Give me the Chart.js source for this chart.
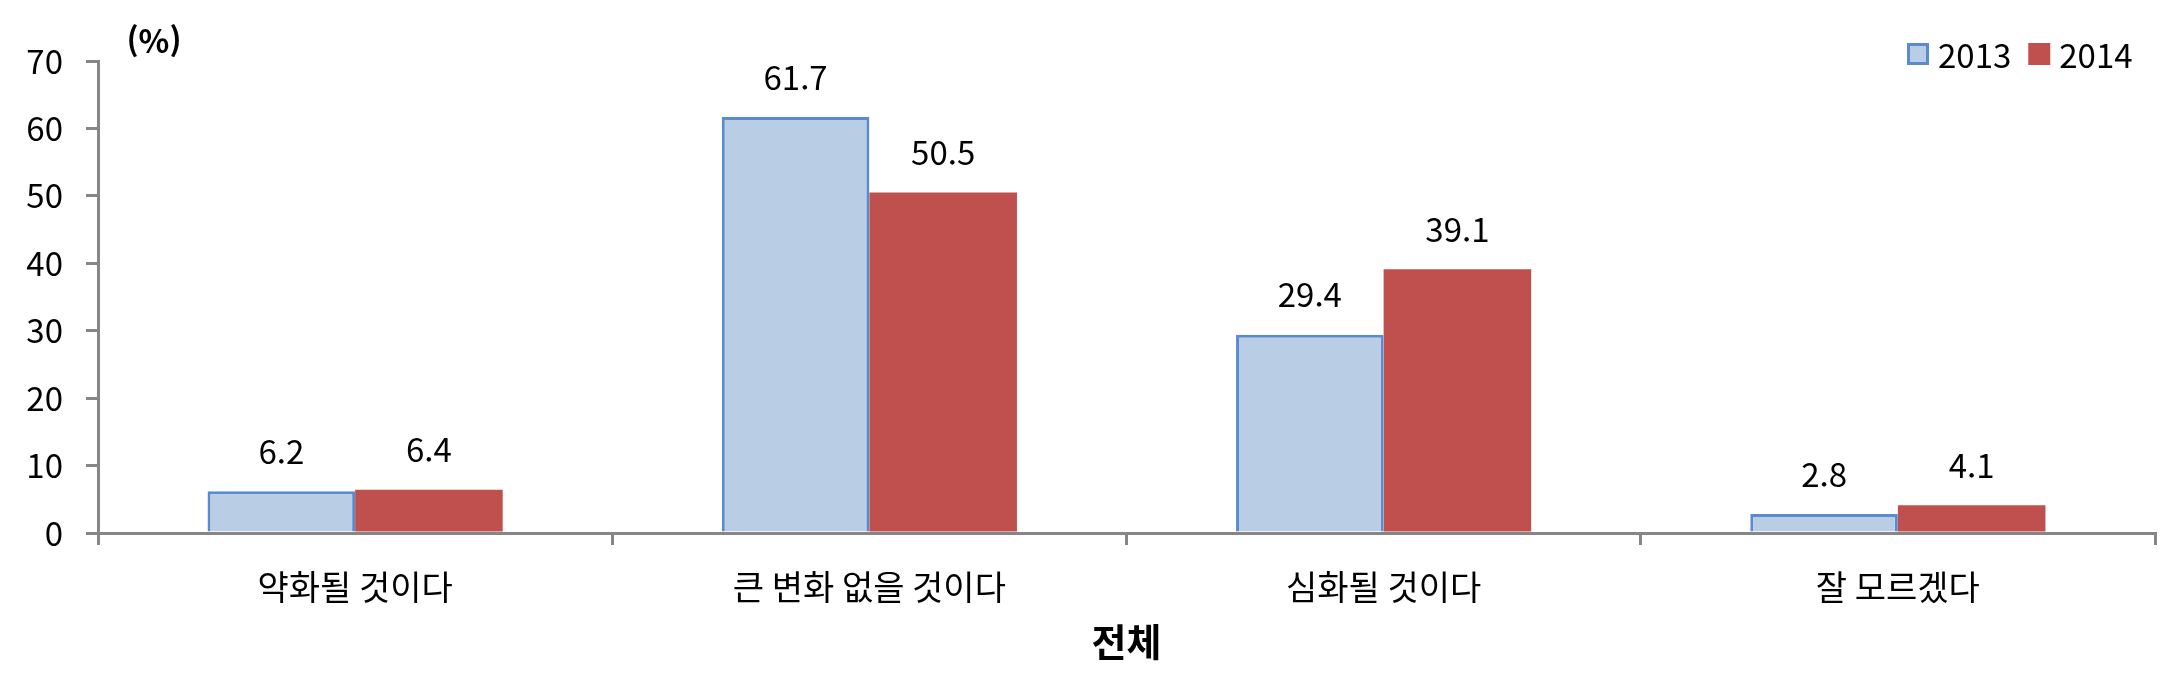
<!DOCTYPE html>
<html lang="ko">
<head>
    <meta charset="UTF-8">
    <title>전체</title>
    <script src="https://cdn.jsdelivr.net/npm/chart.js"></script>
    <style>
        body {
            margin: 0;
            padding: 0;
            background-color: #fff;
        }
        .chart-container {
            width: 2175px;
            height: 693px;
        }
    </style>
</head>
<body>
    <div class="chart-container">
        <canvas id="chart"></canvas>
    </div>

    <script>
        // data
        const categories = ['약화될 것이다', '큰 변화 없을 것이다', '심화될 것이다', '잘 모르겠다'];
        const seriesNames = ['2013', '2014'];
        const values2013 = [6.2, 61.7, 29.4, 2.8];
        const values2014 = [6.4, 50.5, 39.1, 4.1];
        const yTicks = [0, 10, 20, 30, 40, 50, 60, 70];
        const unitLabel = '(%)';
        const axisTitle = '전체';

        const FONT = '"Noto Sans CJK KR", "Noto Sans", sans-serif';
        const AXIS_COLOR = '#868686';

        // value labels above bars
        const valueLabels = {
            id: 'valueLabels',
            afterDatasetsDraw(chart) {
                const ctx = chart.ctx;
                ctx.save();
                ctx.font = '33px ' + FONT;
                ctx.fillStyle = '#000';
                ctx.textAlign = 'center';
                ctx.textBaseline = 'middle';
                chart.data.datasets.forEach((ds, i) => {
                    chart.getDatasetMeta(i).data.forEach((bar, j) => {
                        ctx.fillText(ds.data[j].toFixed(1), bar.x, bar.y - 40);
                    });
                });
                ctx.restore();
            }
        };

        // unit label and legend in the top corners
        const extras = {
            id: 'extras',
            afterDraw(chart) {
                const ctx = chart.ctx;
                const area = chart.chartArea;
                ctx.save();
                ctx.font = 'bold 32px ' + FONT;
                ctx.fillStyle = '#000';
                ctx.textAlign = 'center';
                ctx.textBaseline = 'middle';
                ctx.fillText(unitLabel, area.left + 56, 41);

                ctx.font = '33px ' + FONT;
                ctx.textAlign = 'left';
                let x = area.right - 248;
                const cy = 54;
                chart.data.datasets.forEach((ds) => {
                    ctx.fillStyle = ds.backgroundColor;
                    ctx.fillRect(x, cy - 11, 22, 22);
                    if (ds.borderWidth) {
                        ctx.strokeStyle = ds.borderColor;
                        ctx.lineWidth = 3;
                        ctx.strokeRect(x + 1.5, cy - 9.5, 19, 19);
                    }
                    ctx.fillStyle = '#000';
                    ctx.fillText(ds.label, x + 31, cy + 1);
                    x += 31 + ctx.measureText(ds.label).width + 17;
                });
                ctx.restore();
            }
        };

        const chart = new Chart(document.getElementById('chart'), {
            type: 'bar',
            data: {
                labels: categories,
                datasets: [
                    {
                        label: seriesNames[0],
                        data: values2013,
                        backgroundColor: '#B9CDE5',
                        borderColor: '#5A8AD0',
                        borderWidth: 3,
                        borderSkipped: 'bottom'
                    },
                    {
                        label: seriesNames[1],
                        data: values2014,
                        backgroundColor: '#C0504D',
                        borderWidth: 0
                    }
                ]
            },
            options: {
                responsive: true,
                maintainAspectRatio: false,
                animation: false,
                layout: { padding: { top: 61, right: 20, left: 0, bottom: 0 } },
                datasets: {
                    bar: { barPercentage: 1, categoryPercentage: 0.574 }
                },
                plugins: {
                    legend: { display: false },
                    tooltip: { enabled: false }
                },
                scales: {
                    x: {
                        offset: true,
                        afterFit(scale) { scale.height = 160; },
                        grid: {
                            offset: true,
                            drawOnChartArea: false,
                            tickLength: 12,
                            color: AXIS_COLOR,
                            lineWidth: 3
                        },
                        border: { color: AXIS_COLOR, width: 3 },
                        ticks: {
                            color: '#000',
                            padding: 22,
                            maxRotation: 0,
                            font: { family: FONT, size: 34 }
                        },
                        title: {
                            display: true,
                            text: axisTitle,
                            color: '#000',
                            font: { family: FONT, size: 38, weight: 'bold' },
                            padding: { top: 0, bottom: 29 }
                        }
                    },
                    y: {
                        min: yTicks[0],
                        max: yTicks[yTicks.length - 1],
                        afterFit(scale) { scale.width = 98; },
                        afterBuildTicks(scale) {
                            scale.ticks = yTicks.map(v => ({ value: v }));
                        },
                        grid: {
                            drawOnChartArea: false,
                            tickLength: 12,
                            color: AXIS_COLOR,
                            lineWidth: 3
                        },
                        border: { color: AXIS_COLOR, width: 3 },
                        ticks: {
                            color: '#000',
                            padding: 23,
                            font: { family: FONT, size: 33 }
                        }
                    }
                }
            },
            plugins: [valueLabels, extras]
        });
    </script>
</body>
</html>
